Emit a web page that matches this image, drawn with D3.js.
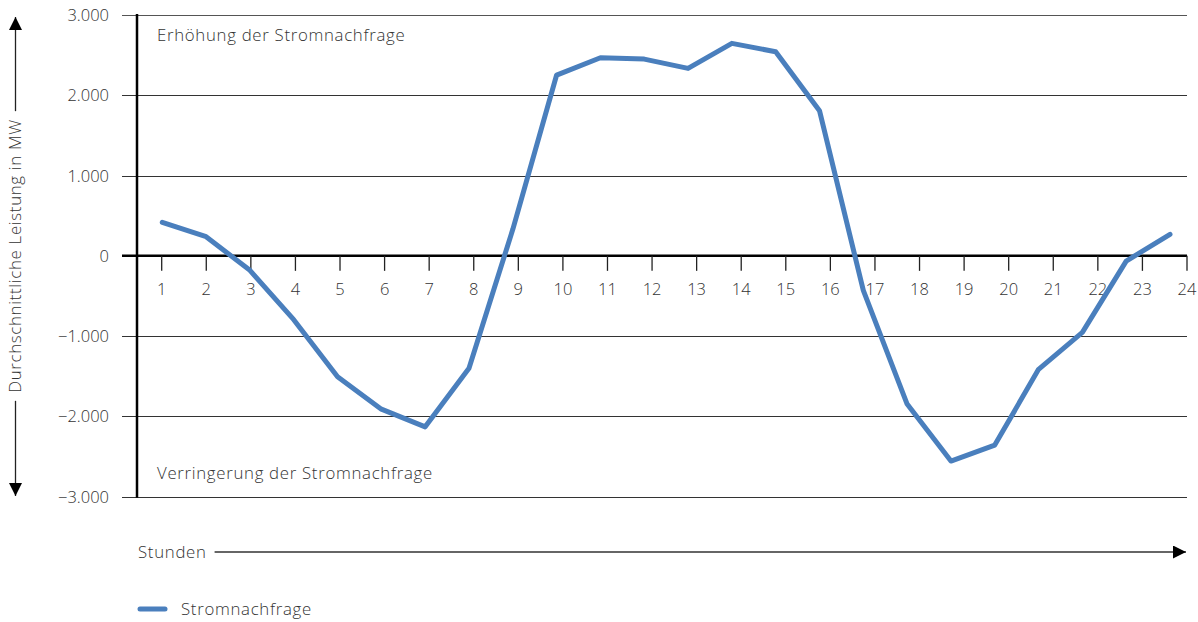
<!DOCTYPE html>
<html lang="de">
<head>
<meta charset="utf-8">
<script src="https://cdn.jsdelivr.net/npm/d3@7"></script>
<style>
  html, body { margin: 0; padding: 0; background: #fff; }
  svg { display: block; font-family: "Open Sans", Roboto, sans-serif; font-weight: 300; }
  text { fill: #333; }
  .lbl { letter-spacing: 0.7px; font-size: 16.8px; }
  .num { letter-spacing: 0px; font-size: 16.5px; }
</style>
</head>
<body>
<svg id="chart" width="1198" height="622"></svg>
<script>
// Stunden des Tages
const hours = [1, 2, 3, 4, 5, 6, 7, 8, 9, 10, 11, 12, 13, 14, 15, 16, 17, 18, 19, 20, 21, 22, 23, 24];
// Durchschnittliche Abweichung der Stromnachfrage in MW
const demand = [417, 238, -180, -795, -1506, -1910, -2130, -1400, 330, 2252, 2468, 2451, 2335, 2647, 2542, 1808,
                -430, -1846, -2556, -2357, -1414, -953, -65, 268];
const yTicks = [-3000, -2000, -1000, 0, 1000, 2000, 3000];
const xTickLabels = hours.map(String);

const seriesName = "Stromnachfrage";
const yTitle = "Durchschnittliche Leistung in MW";
const xTitle = "Stunden";
const upperNote = "Erhöhung der Stromnachfrage";
const lowerNote = "Verringerung der Stromnachfrage";

const svg = d3.select("#chart");
const plotLeft = 137, plotRight = 1187, plotTop = 15, plotBottom = 496.7;

const y = d3.scaleLinear().domain([-3000, 3000]).range([plotBottom, plotTop]);
// Achsenskala (Beschriftung) und Skala der Messpunkte
const xAxisScale = d3.scaleLinear().domain([1, 24]).range([161.7, plotRight]);
const xPoint = d3.scaleLinear().domain([1, 24]).range([162.3, 1170]);

const fmt = v => (v < 0 ? "\u2212" : "") + d3.format(",")(Math.abs(v)).replace(/,/g, ".");

// Gitterlinien
svg.append("g").selectAll("line")
  .data(yTicks.filter(v => v !== 0))
  .join("line")
  .attr("x1", 122).attr("x2", plotRight)
  .attr("y1", d => Math.round(y(d)) + 0.5).attr("y2", d => Math.round(y(d)) + 0.5)
  .attr("stroke", d => d === 3000 ? "#555" : "#333")
  .attr("stroke-width", 1);

// Y-Achsenbeschriftungen
svg.append("g").selectAll("text")
  .data(yTicks)
  .join("text")
  .attr("class", "num")
  .attr("x", 109).attr("y", d => y(d))
  .attr("dy", "0.36em")
  .attr("text-anchor", "end")
  .text(d => fmt(d));

// Nulllinie
svg.append("line")
  .attr("x1", 122).attr("x2", plotRight)
  .attr("y1", y(0)).attr("y2", y(0))
  .attr("stroke", "#000").attr("stroke-width", 2.5);

// X-Achse: Striche und Beschriftungen
const xg = svg.append("g");
xg.selectAll("line")
  .data(hours)
  .join("line")
  .attr("x1", d => xAxisScale(d)).attr("x2", d => xAxisScale(d))
  .attr("y1", y(0)).attr("y2", y(0) + 15)
  .attr("stroke", "#222").attr("stroke-width", 1.3);
xg.selectAll("text")
  .data(hours)
  .join("text")
  .attr("class", "num")
  .attr("x", d => xAxisScale(d)).attr("y", y(0) + 33)
  .attr("dy", "0.36em")
  .attr("text-anchor", "middle")
  .text((d, i) => xTickLabels[i]);

// Y-Achse
svg.append("line")
  .attr("x1", plotLeft).attr("x2", plotLeft)
  .attr("y1", plotTop - 1).attr("y2", plotBottom + 1)
  .attr("stroke", "#000").attr("stroke-width", 2.5);

// Hinweise
svg.append("text").attr("class", "lbl").attr("x", 157).attr("y", 35).attr("dy", "0.36em")
  .text(upperNote);
svg.append("text").attr("class", "lbl").attr("x", 157).attr("y", 473).attr("dy", "0.36em")
  .text(lowerNote);

// Datenlinie
const line = d3.line().x((d, i) => xPoint(hours[i])).y(d => y(d));
svg.append("path")
  .datum(demand)
  .attr("d", line)
  .attr("fill", "none")
  .attr("stroke", "#4a7fbd")
  .attr("stroke-width", 5)
  .attr("stroke-linejoin", "round")
  .attr("stroke-linecap", "round");

// Pfeilspitzen
const defs = svg.append("defs");
defs.append("marker")
  .attr("id", "arrow")
  .attr("viewBox", "0 0 10 10")
  .attr("refX", 10).attr("refY", 5)
  .attr("markerUnits", "userSpaceOnUse")
  .attr("markerWidth", 16).attr("markerHeight", 13)
  .attr("orient", "auto")
  .append("path").attr("d", "M0,0 L10,5 L0,10 Z").attr("fill", "#000");

// Y-Achsentitel mit Pfeilen
const yTitleText = svg.append("text")
  .attr("class", "lbl")
  .attr("transform", `translate(21, 256) rotate(-90)`)
  .attr("text-anchor", "middle")
  .text(yTitle);
const half = yTitleText.node().getComputedTextLength() / 2;
svg.append("line")
  .attr("x1", 15.5).attr("x2", 15.5)
  .attr("y1", 256 - half - 8).attr("y2", 17)
  .attr("stroke", "#222").attr("stroke-width", 1.3)
  .attr("marker-end", "url(#arrow)");
svg.append("line")
  .attr("x1", 15.5).attr("x2", 15.5)
  .attr("y1", 256 + half + 8).attr("y2", 496)
  .attr("stroke", "#222").attr("stroke-width", 1.3)
  .attr("marker-end", "url(#arrow)");

// X-Achsentitel mit Pfeil
const xTitleText = svg.append("text").attr("class", "lbl").attr("x", 138).attr("y", 552).attr("dy", "0.36em")
  .text(xTitle);
const xTitleEnd = 138 + xTitleText.node().getComputedTextLength() + 8;
svg.append("line")
  .attr("x1", xTitleEnd).attr("x2", 1186)
  .attr("y1", 552).attr("y2", 552)
  .attr("stroke", "#333").attr("stroke-width", 1.3)
  .attr("marker-end", "url(#arrow)");

// Legende
const legend = svg.append("g").attr("transform", "translate(138, 609)");
legend.append("line")
  .attr("x1", 2).attr("x2", 27).attr("y1", 0).attr("y2", 0)
  .attr("stroke", "#4a7fbd").attr("stroke-width", 5).attr("stroke-linecap", "round");
legend.append("text").attr("class", "lbl").attr("x", 43).attr("y", 0).attr("dy", "0.36em")
  .text(seriesName);
</script>
</body>
</html>
